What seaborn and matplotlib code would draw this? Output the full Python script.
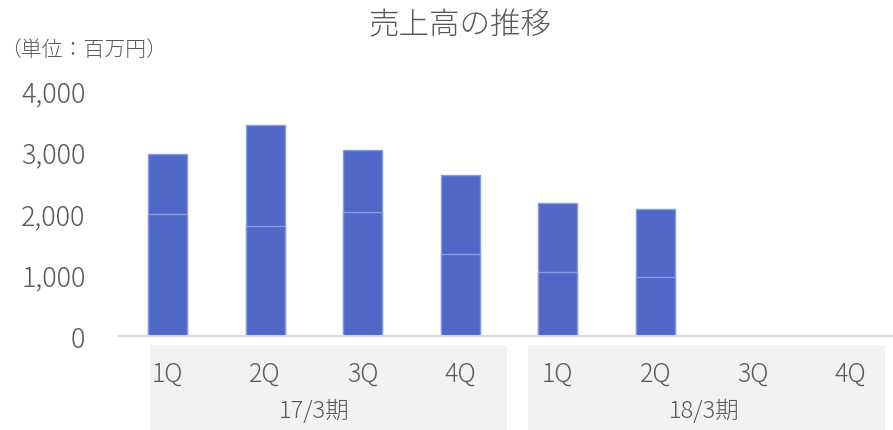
import matplotlib
matplotlib.use("Agg")
import matplotlib.pyplot as plt
import matplotlib.transforms as mtransforms
from matplotlib.patches import Rectangle
import seaborn as sns
import pandas as pd
import numpy as np

# ---- data ----
periods = ["17/3期", "18/3期"]
quarters = ["1Q", "2Q", "3Q", "4Q"]
lower = [1980, 1785, 2010, 1330, 1040, 955, np.nan, np.nan]
upper = [975, 1640, 1020, 1280, 1130, 1115, np.nan, np.nan]
yticks = [0, 1000, 2000, 3000, 4000]
ytick_labels = ["0", "1,000", "2,000", "3,000", "4,000"]

cats = [f"{p} {q}" for p in periods for q in quarters]
total = [l + u for l, u in zip(lower, upper)]
df = pd.DataFrame({"cat": cats, "lower": lower, "total": total})

sns.set_theme(style="white")
plt.rcParams["font.family"] = ["Noto Sans CJK JP", "DejaVu Sans"]

bar_color = "#4F68C8"
edge_color = "#8A9BE0"
text_color = "#595959"

fig = plt.figure(figsize=(8.93, 4.31), dpi=100)
ax = fig.add_axes([0.133, 0.218, 0.874, 0.571])

sns.barplot(data=df, x="cat", y="total", order=cats, color=bar_color,
            saturation=1, width=0.4, edgecolor=edge_color, linewidth=1.0, ax=ax)
sns.barplot(data=df, x="cat", y="lower", order=cats, color=bar_color,
            saturation=1, width=0.4, edgecolor=edge_color, linewidth=1.0, ax=ax)

ax.set_xlim(-0.5, len(cats) - 0.5)
ax.set_ylim(0, 4000)
ax.set_yticks(yticks)
ax.set_yticklabels(ytick_labels, fontsize=19.5, color=text_color, fontweight="light")
ax.tick_params(axis="y", length=0, pad=24)
ax.set_xticks(range(len(cats)))
ax.set_xticklabels([])
ax.tick_params(axis="x", length=0)
ax.set_xlabel("")
ax.set_ylabel("")
for s in ["top", "right", "left"]:
    ax.spines[s].set_visible(False)
ax.spines["bottom"].set_color("#D9D9D9")
ax.spines["bottom"].set_linewidth(1.5)

# category label boxes below axis
trans = mtransforms.blended_transform_factory(ax.transData, fig.transFigure)
box_top = (431 - 346) / 431
box_starts = [-0.18, 3.69]
box_width = 3.66
for i, p in enumerate(periods):
    ax.add_patch(Rectangle((box_starts[i], 0.0), box_width, box_top,
                           transform=trans, facecolor="#F2F2F2", edgecolor="none",
                           clip_on=False, zorder=0))
    for j, q in enumerate(quarters):
        ax.text(i * 4 + j, (431 - 374) / 431, q, transform=trans, ha="center",
                va="center", fontsize=18, color=text_color, fontweight="light")
    ax.text(i * 4 + 1.5, (431 - 412) / 431, p, transform=trans, ha="center",
            va="center", fontsize=17, color=text_color, fontweight="light")

fig.text(460 / 893, 1 - 25.5 / 431, "売上高の推移", ha="center", va="center",
         fontsize=22, color=text_color, fontweight="light")
fig.text(0.5 / 893, 1 - 50 / 431, "（単位：百万円）", ha="left", va="center",
         fontsize=15, color=text_color, fontweight="light")

fig.savefig("out.png", dpi=100)
